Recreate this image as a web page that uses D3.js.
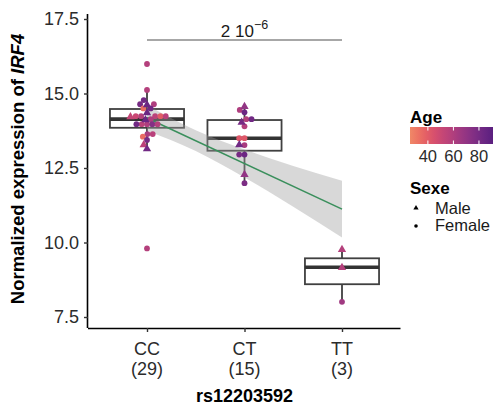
<!DOCTYPE html>
<html>
<head>
<meta charset="utf-8">
<script src="https://cdn.jsdelivr.net/npm/d3@7"></script>
<style>
	body { margin: 0; background: #fff; }
	svg { display: block; font-family: 'Liberation Sans', Arial, sans-serif; }
</style>
</head>
<body>
<svg id="chart" width="499" height="409"></svg>
<script>
// genotype groups
const genotypes = ['CC', 'CT', 'TT']
const groupN = [29, 15, 3]

// individual samples, per genotype: expression, age, sex
const ccExpr = [15.99, 15.12, 14.78, 14.64, 14.64, 14.64, 14.50, 14.50, 14.37, 14.24, 14.24, 14.24, 14.24, 14.24, 14.24, 14.14, 14.14, 13.97, 13.97, 13.97, 13.97, 13.97, 13.64, 13.64, 13.55, 13.44, 13.30, 13.16, 9.80]
const ccAge = [58, 58, 82, 84, 80, 60, 34, 82, 84, 58, 55, 50, 40, 52, 56, 84, 60, 60, 55, 75, 82, 58, 62, 56, 34, 80, 55, 82, 58]
const ccSex = ['F', 'F', 'F', 'M', 'F', 'F', 'F', 'F', 'M', 'F', 'F', 'F', 'F', 'M', 'F', 'M', 'F', 'F', 'F', 'F', 'F', 'F', 'F', 'F', 'F', 'F', 'M', 'M', 'F']

const ctExpr = [14.58, 14.45, 14.37, 14.14, 14.14, 14.05, 13.90, 13.50, 13.50, 13.30, 13.27, 12.95, 12.95, 12.30, 11.99]
const ctAge = [70, 60, 84, 58, 82, 80, 58, 42, 42, 82, 62, 84, 80, 70, 78]
const ctSex = ['M', 'F', 'F', 'F', 'F', 'M', 'F', 'F', 'F', 'M', 'F', 'F', 'F', 'M', 'F']

const ttExpr = [9.78, 9.18, 8.01]
const ttAge = [58, 58, 65]
const ttSex = ['M', 'M', 'F']

// boxplot statistics
const boxQ1 = [13.85, 13.08, 8.60]
const boxMed = [14.14, 13.50, 9.17]
const boxQ3 = [14.48, 14.11, 9.47]
const whiskLo = [13.16, 11.99, 8.01]
const whiskHi = [15.12, 14.58, 9.78]

// linear fit and its confidence band
const fitX = [1, 3]
const fitY = [14.18, 11.12]
const bandX = [1, 1.5, 2, 2.5, 3]
const bandLo = [13.75, 13.07, 12.18, 11.20, 10.17]
const bandHi = [14.61, 13.77, 13.12, 12.57, 12.07]

const yTicks = [7.5, 10.0, 12.5, 15.0, 17.5]
const ageTicks = [40, 60, 80]
const ageRange = [26, 91]
const pValue = { mant: '2 10', exp: '\u22126' }

const svg = d3.select('#chart')
const margin = { left: 88, top: 14, right: 400.5, bottom: 328 }

const x = d3.scaleLinear().domain([0.4, 3.6]).range([margin.left + 0.5, margin.right])
const y = d3.scaleLinear().domain([7.131, 17.668]).range([margin.bottom, margin.top])
const ageT = d3.scaleLinear().domain(ageRange).range([0.75, 0.25])
const ageColor = (a) => d3.interpolateRgb(d3.interpolateMagma(ageT(a)), '#9a7f96')(0.12)

const groups = [
	{ expr: ccExpr, age: ccAge, sex: ccSex },
	{ expr: ctExpr, age: ctAge, sex: ctSex },
	{ expr: ttExpr, age: ttAge, sex: ttSex },
]

// beeswarm placement
const swarm = (items, cx, d) => {
	const placed = []
	items.slice().sort((a, b) => b.py - a.py).forEach((p) => {
		const near = placed.filter((q) => Math.abs(q.py - p.py) < d)
		const cands = [0]
		near.forEach((q) => {
			const dx = Math.sqrt(d * d - (q.py - p.py) ** 2)
			cands.push(q.off - dx, q.off + dx)
		})
		cands.sort((a, b) => Math.abs(a) - Math.abs(b))
		p.off = cands.find((c) => near.every((q) => (q.off - c) ** 2 + (q.py - p.py) ** 2 >= d * d - 1e-6))
		placed.push(p)
	})
	items.forEach((p) => { p.px = cx + p.off })
	return items
}

const points = groups.flatMap((g, gi) => swarm(
	g.expr.map((v, i) => ({ v, age: g.age[i], sex: g.sex[i], py: y(v) })),
	x(gi + 1), 5.3))

// boxes
const boxW = 0.76 * (x(1) - x(0))
const boxStroke = '#404040'
const gBox = svg.append('g')
	.selectAll('g').data(genotypes).enter().append('g')
gBox.append('line')
	.attr('x1', (_, i) => x(i + 1)).attr('x2', (_, i) => x(i + 1))
	.attr('y1', (_, i) => y(whiskHi[i])).attr('y2', (_, i) => y(boxQ3[i]))
	.style('stroke', boxStroke).style('stroke-width', 1.8)
gBox.append('line')
	.attr('x1', (_, i) => x(i + 1)).attr('x2', (_, i) => x(i + 1))
	.attr('y1', (_, i) => y(boxQ1[i])).attr('y2', (_, i) => y(whiskLo[i]))
	.style('stroke', boxStroke).style('stroke-width', 1.8)
gBox.append('rect')
	.attr('x', (_, i) => x(i + 1) - boxW / 2)
	.attr('width', boxW)
	.attr('y', (_, i) => y(boxQ3[i]))
	.attr('height', (_, i) => y(boxQ1[i]) - y(boxQ3[i]))
	.style('fill', 'none').style('stroke', boxStroke).style('stroke-width', 1.8)
gBox.append('line')
	.attr('x1', (_, i) => x(i + 1) - boxW / 2).attr('x2', (_, i) => x(i + 1) + boxW / 2)
	.attr('y1', (_, i) => y(boxMed[i])).attr('y2', (_, i) => y(boxMed[i]))
	.style('stroke', '#333').style('stroke-width', 3.6)

// confidence band and fit line
const band = d3.area()
	.x((_, i) => x(bandX[i]))
	.y0((_, i) => y(bandLo[i]))
	.y1((_, i) => y(bandHi[i]))
	.curve(d3.curveMonotoneX)
svg.append('path')
	.attr('d', band(bandX))
	.style('fill', '#9d9d9d').style('fill-opacity', 0.4)
svg.append('path')
	.attr('d', d3.line().x((d) => x(d)).y((_, i) => y(fitY[i]))(fitX))
	.style('fill', 'none').style('stroke', '#3a8f5c').style('stroke-width', 1.6)

// samples
const sym = d3.symbol().type(d3.symbolTriangle).size(30)
const gPts = svg.append('g')
gPts.selectAll('circle').data(points.filter((d) => d.sex === 'F')).enter()
	.append('circle')
	.attr('cx', (d) => d.px).attr('cy', (d) => d.py)
	.attr('r', 2.9)
	.style('fill', (d) => ageColor(d.age))
gPts.selectAll('path').data(points.filter((d) => d.sex === 'M')).enter()
	.append('path')
	.attr('d', sym)
	.attr('transform', (d) => `translate(${d.px}, ${d.py + 0.6})`)
	.style('fill', (d) => ageColor(d.age))

// axes
const yAxis = svg.append('g')
	.attr('transform', `translate(${margin.left}, 0)`)
	.call(d3.axisLeft(y).tickValues(yTicks).tickFormat(d3.format('.1f')).tickSize(4).tickPadding(5))
const xAxis = svg.append('g')
	.attr('transform', `translate(0, ${margin.bottom})`)
	.call(d3.axisBottom(x).tickValues([1, 2, 3]).tickFormat('').tickSize(4))
;[yAxis, xAxis].forEach((a) => {
	a.select('.domain').style('stroke', '#000').style('stroke-width', 1.6)
	a.selectAll('.tick line').style('stroke', '#333').style('stroke-width', 1.4)
})
xAxis.select('.domain').attr('d', `M${margin.left},0.5H${margin.right}`)
yAxis.select('.domain').attr('d', `M-0.5,${margin.top}V${margin.bottom}`)
yAxis.selectAll('text')
	.style('font-family', 'Liberation Sans, Arial, sans-serif')
	.style('font-size', '18px')
	.style('fill', '#2b2b2b')

const xLab = svg.append('g').selectAll('text').data(genotypes).enter()
	.append('text')
	.attr('x', (_, i) => x(i + 1))
	.style('text-anchor', 'middle')
	.style('font-size', '18px')
	.style('fill', '#2b2b2b')
xLab.append('tspan').attr('x', (_, i) => x(i + 1)).attr('y', 355).text((d) => d)
xLab.append('tspan').attr('x', (_, i) => x(i + 1)).attr('y', 374.5).text((_, i) => `(${groupN[i]})`)

svg.append('text')
	.attr('x', x(2)).attr('y', 402)
	.style('text-anchor', 'middle')
	.style('font-size', '18px').style('font-weight', 'bold')
	.text('rs12203592')

const yTitle = svg.append('text')
	.attr('transform', 'translate(24, 169) rotate(-90)')
	.style('text-anchor', 'middle')
	.style('font-size', '18.5px').style('font-weight', 'bold')
yTitle.append('tspan').text('Normalized expression of ')
yTitle.append('tspan').style('font-style', 'italic').text('IRF4')

// significance annotation
svg.append('line')
	.attr('x1', x(1)).attr('x2', x(3))
	.attr('y1', 40).attr('y2', 40)
	.style('stroke', '#8a8a8a').style('stroke-width', 1.5)
const pText = svg.append('text')
	.attr('x', (x(1) + x(3)) / 2).attr('y', 36.5)
	.style('text-anchor', 'middle')
	.style('font-size', '17px')
	.style('fill', '#1a1a1a')
pText.append('tspan').text(pValue.mant)
pText.append('tspan').attr('dy', -8).style('font-size', '12.5px').text(pValue.exp)

// legend: age
const legX = d3.scaleLinear().domain(ageRange).range([410, 493])
const defs = svg.append('defs')
const grad = defs.append('linearGradient').attr('id', 'ageGrad')
grad.selectAll('stop').data(d3.range(0, 1.01, 0.1)).enter()
	.append('stop')
	.attr('offset', (d) => d)
	.attr('stop-color', (d) => ageColor(ageRange[0] + d * (ageRange[1] - ageRange[0])))
const gLeg = svg.append('g')
gLeg.append('text').attr('x', 410).attr('y', 122.5)
	.style('font-size', '17px').style('font-weight', 'bold').text('Age')
gLeg.append('rect')
	.attr('x', legX.range()[0]).attr('y', 127)
	.attr('width', legX.range()[1] - legX.range()[0]).attr('height', 17)
	.style('fill', 'url(#ageGrad)')
ageTicks.forEach((t) => {
	gLeg.append('line').attr('x1', legX(t)).attr('x2', legX(t)).attr('y1', 127).attr('y2', 130.5)
		.style('stroke', '#fff').style('stroke-width', 1)
	gLeg.append('line').attr('x1', legX(t)).attr('x2', legX(t)).attr('y1', 140.5).attr('y2', 144)
		.style('stroke', '#fff').style('stroke-width', 1)
})
gLeg.selectAll('text.age').data(ageTicks).enter()
	.append('text').classed('age', true)
	.attr('x', (d) => legX(d)).attr('y', 162)
	.style('text-anchor', 'middle')
	.style('font-size', '16.5px').style('fill', '#2b2b2b')
	.text((d) => d)

// legend: sex
gLeg.append('text').attr('x', 410).attr('y', 193.5)
	.style('font-size', '17px').style('font-weight', 'bold').text('Sexe')
gLeg.append('path')
	.attr('d', d3.symbol().type(d3.symbolTriangle).size(12))
	.attr('transform', 'translate(416, 208)')
gLeg.append('circle').attr('cx', 416).attr('cy', 226).attr('r', 1.8)
gLeg.append('text').attr('x', 435).attr('y', 214)
	.style('font-size', '16.5px').style('fill', '#1a1a1a').text('Male')
gLeg.append('text').attr('x', 435).attr('y', 230.5)
	.style('font-size', '16.5px').style('fill', '#1a1a1a').text('Female')
</script>
</body>
</html>
